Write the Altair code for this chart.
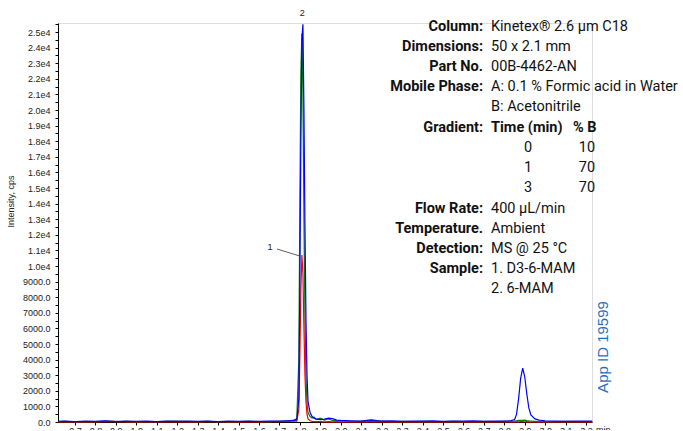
import altair as alt
import pandas as pd

# ---------------- data ----------------
times = [0.62, 0.65, 0.70, 0.75, 0.80, 0.85, 0.90, 0.95, 1.00, 1.05, 1.10, 1.15,
         1.20, 1.25, 1.30, 1.35, 1.40, 1.45, 1.50, 1.55, 1.60, 1.65, 1.70, 1.74,
         1.77, 1.785, 1.795, 1.800, 1.805, 1.810, 1.815, 1.820, 1.825, 1.830,
         1.835, 1.840, 1.850, 1.860, 1.870, 1.880, 1.900, 1.920, 1.940, 1.960,
         1.980, 2.00, 2.05, 2.10, 2.15, 2.20, 2.25, 2.30, 2.35, 2.40, 2.45, 2.50,
         2.55, 2.60, 2.65, 2.70, 2.75, 2.80, 2.83, 2.85, 2.86, 2.87, 2.88, 2.89,
         2.90, 2.91, 2.92, 2.93, 2.95, 2.97, 3.00, 3.05, 3.10, 3.15, 3.20, 3.23]

blue = [40, 60, 30, 50, 40, 70, 30, 50, 40, 60, 30, 50,
        40, 60, 40, 50, 30, 60, 40, 50, 40, 60, 50, 80,
        100, 150, 1500, 9000, 18000, 24500, 25500, 20000, 12500, 6500,
        3000, 1300, 600, 350, 250, 200, 150, 180, 250, 220,
        120, 100, 80, 60, 90, 50, 70, 40, 60, 50, 70, 40,
        60, 50, 70, 40, 60, 60, 80, 150, 500, 1500, 2800, 3450,
        2900, 1800, 900, 450, 200, 120, 80, 60, 40, 60, 50, 50]

green = [20, 40, 10, 30, 20, 50, 20, 40, 10, 30, 20, 40,
         60, 30, 20, 40, 10, 30, 20, 40, 30, 20, 40, 60,
         120, 200, 4000, 14000, 22500, 24900, 21000, 13000, 6500, 2800,
         1200, 600, 350, 250, 300, 150, 250, 120, 200, 100,
         80, 60, 40, 60, 150, 50, 30, 40, 20, 40, 30, 20,
         40, 30, 20, 40, 30, 40, 30, 60, 80, 100, 110, 100,
         120, 90, 70, 50, 40, 30, 30, 20, 40, 20, 30, 20]

red = [10, 20, 0, 30, 10, 20, 40, 10, 20, 0, 30, 10,
       20, 10, 0, 30, 20, 10, 20, 0, 10, 30, 20, 40,
       50, 60, 800, 4200, 8500, 10700, 9500, 6000, 3000, 1300,
       500, 200, 80, 40, 30, 20, 30, 10, 20, 10,
       20, 10, 0, 20, 10, 20, 0, 10, 20, 10, 0, 20,
       10, 20, 0, 10, 20, 10, 0, 10, 20, 10, 30, 20,
       10, 20, 10, 0, 10, 20, 10, 0, 20, 10, 0, 10]

series_names = ["green", "red", "blue"]
series_colors = ["#0a7d12", "#ff0000", "#0000ff"]

x_ticks = [0.7, 0.8, 0.9, 1.0, 1.1, 1.2, 1.3, 1.4, 1.5, 1.6, 1.7, 1.8, 1.9,
           2.0, 2.1, 2.2, 2.3, 2.4, 2.5, 2.6, 2.7, 2.8, 2.9, 3.0, 3.1, 3.2]
y_ticks = list(range(0, 25501, 500))

peak_labels = ["1", "2"]
peak_label_x = [1.654, 1.812]
peak_label_y = [11200, 26250]

cond_labels = ["Column:", "Dimensions:", "Part No.", "Mobile Phase:", "",
               "Gradient:", "", "", "", "Flow Rate:", "Temperature.",
               "Detection:", "Sample:", ""]
cond_values = ["Kinetex\u00ae 2.6 \u00b5m C18", "50 x 2.1 mm", "00B-4462-AN",
               "A: 0.1 % Formic acid in Water", "B: Acetonitrile", "", "", "", "",
               "400 \u00b5L/min", "Ambient", "MS @ 25 \u00b0C", "1. D3-6-MAM",
               "2. 6-MAM"]
grad_header = ["Time (min)", "% B"]
grad_time = ["0", "1", "3"]
grad_b = ["10", "70", "70"]

# ---------------- build ----------------
rows = []
for name, vals in zip(series_names, [green, red, blue]):
    for t, v in zip(times, vals):
        rows.append({"t": t, "v": v, "s": name})
df = pd.DataFrame(rows)

XDOM = [0.617, 3.229]
YDOM = [0, 25577]
xs = alt.Scale(domain=XDOM, nice=False, zero=False)
ys = alt.Scale(domain=YDOM, nice=False)

label_expr = ("datum.value % 1000 === 0 ? (datum.value >= 10000 ? "
              "format(datum.value / 10000, '.1f') + 'e4' : format(datum.value, '.1f')) : ''")

x_axis = alt.Axis(values=x_ticks, format=".1f", title=None, grid=False,
                  labelFontSize=9, labelColor="#222", tickSize=3,
                  labelPadding=1, domainColor="#000", tickColor="#000",
                  labelFont="Liberation Sans", labelFlush=False,
                  labelOverlap=False)
y_axis = alt.Axis(values=y_ticks, labelExpr=label_expr,
                  title="Intensity, cps", titleFontSize=9,
                  titleFontWeight="normal", titleColor="#222",
                  titleFont="Liberation Sans",
                  titleX=-48, titleY=178, titleAngle=-90,
                  titleAlign="center", titleBaseline="middle",
                  grid=False, labelFontSize=9, labelColor="#222",
                  labelFont="Liberation Sans", labelOverlap=False,
                  tickSize=3, labelPadding=5, domainColor="#000",
                  tickColor="#000")

lines = alt.Chart(df).mark_line(strokeWidth=1.2, clip=False).encode(
    x=alt.X("t:Q", scale=xs, axis=x_axis),
    y=alt.Y("v:Q", scale=ys, axis=y_axis),
    color=alt.Color("s:N", scale=alt.Scale(domain=series_names, range=series_colors),
                    legend=None),
    order=alt.Order("t:Q"),
    detail="s:N",
)

pk = pd.DataFrame({"lab": peak_labels, "x": peak_label_x, "y": peak_label_y})
peak_text = alt.Chart(pk).mark_text(fontSize=9, font="Liberation Sans",
                                    color="#222", baseline="middle").encode(
    x=alt.X("x:Q", scale=xs, axis=x_axis), y=alt.Y("y:Q", scale=ys, axis=y_axis),
    text="lab:N")

lead = pd.DataFrame({"x": [1.688], "y": [11090], "x2": [1.80], "y2": [10640]})
leader = alt.Chart(lead).mark_rule(color="#333", strokeWidth=0.8).encode(
    x=alt.X("x:Q", scale=xs, axis=x_axis), y=alt.Y("y:Q", scale=ys, axis=y_axis),
    x2="x2:Q", y2="y2:Q")

FONT = "Roboto"
FS = 14.5
LH = 20.23
Y0 = 7.5

one = pd.DataFrame({"a": [0]})


def txt(text, x, y, align, weight="normal", size=FS, font=FONT, color="#111",
        angle=0, baseline="alphabetic"):
    return alt.Chart(one).mark_text(
        align=align, baseline=baseline, fontSize=size, font=font,
        fontWeight=weight, color=color, angle=angle
    ).encode(x=alt.value(x), y=alt.value(y), text=alt.value(text))


text_layers = []
for i, (lab, val) in enumerate(zip(cond_labels, cond_values)):
    if lab:
        text_layers.append(txt(lab, 425, Y0 + i * LH, "right", weight="bold"))
    if val:
        text_layers.append(txt(val, 433, Y0 + i * LH, "left"))
text_layers.append(txt(grad_header[0], 433, Y0 + 5 * LH, "left", weight="bold"))
text_layers.append(txt(grad_header[1], 515, Y0 + 5 * LH, "left", weight="bold"))
for j, (tv, bv) in enumerate(zip(grad_time, grad_b)):
    text_layers.append(txt(tv, 470, Y0 + (6 + j) * LH, "center"))
    text_layers.append(txt(bv, 529, Y0 + (6 + j) * LH, "center"))

app_id = txt("App ID 19599", 545, 324, "center", size=15, font="Liberation Sans",
             color="#1f6fbf", angle=270, baseline="middle")
min_lab = txt("min", 538, 403, "left", size=9, font="Liberation Sans",
              color="#222", baseline="top")

chart = alt.layer(
    lines, leader, peak_text, *text_layers, app_id, min_lab
).properties(
    width=534, height=399,
    autosize=alt.AutoSizeParams(type="none"),
    padding={"left": 58, "top": 23, "right": 91, "bottom": 8},
).configure_view(stroke=None).configure_axis(labelOverlap=False).configure(
    background="white")

chart.save("out.html", embed_options={"renderer": "svg", "actions": False})
